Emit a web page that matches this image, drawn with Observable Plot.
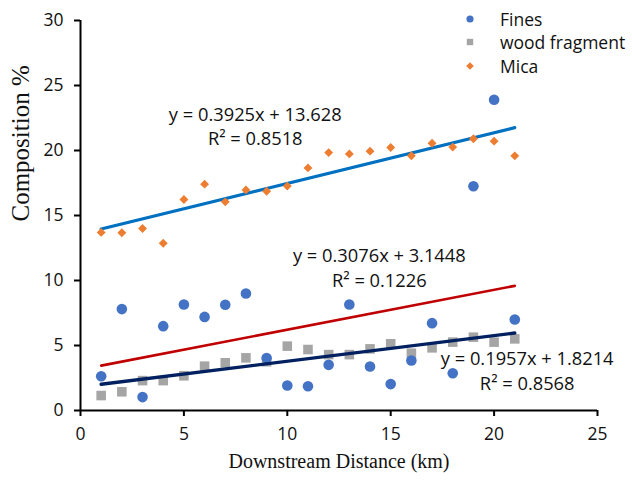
<!DOCTYPE html>
<html>
<head>
<meta charset="utf-8">
<script src="https://cdn.jsdelivr.net/npm/d3@7"></script>
<script src="https://cdn.jsdelivr.net/npm/@observablehq/plot@0.6"></script>
<style>
  html, body { margin: 0; padding: 0; background: #fff; }
  #wrap { position: relative; width: 632px; height: 481px; }
  #legend { position: absolute; left: 462px; top: 7px; font-family: "Open Sans", sans-serif; font-size: 17.5px; color: #111; }
  #legend .row { display: flex; align-items: center; height: 23.5px; }
  #legend svg { width: 16px; height: 16px; margin-right: 22px; }
</style>
</head>
<body>
<div id="wrap"><div id="chart"></div><div id="legend"></div></div>
<script>
// Data
const distance = [1,2,3,4,5,6,7,8,9,10,11,12,13,14,15,16,17,18,19,20,21];
const fines = [2.64,7.8,1.03,6.49,8.15,7.2,8.13,9.0,4.03,1.92,1.87,3.51,8.15,3.38,2.03,3.85,6.72,2.87,17.25,23.9,7.0];
const woodFragment = [1.15,1.44,2.3,2.3,2.67,3.41,3.67,4.05,3.75,4.95,4.69,4.3,4.3,4.74,5.13,4.41,4.82,5.26,5.64,5.26,5.51];
const mica = [13.7,13.67,14.0,12.87,16.23,17.41,16.05,16.97,16.87,17.26,18.66,19.84,19.74,19.95,20.23,19.6,20.56,20.26,20.9,20.72,19.59];
const seriesNames = ["Fines", "wood fragment", "Mica"];
const equations = ["y = 0.3076x + 3.1448", "y = 0.1957x + 1.8214", "y = 0.3925x + 13.628"];
const rSquared = ["R² = 0.1226", "R² = 0.8568", "R² = 0.8518"];
const xTicks = [0,5,10,15,20,25];
const yTicks = [0,5,10,15,20,25,30];

// Styles / positions (kept separate from data)
const dotColors = ["#4472C4", "#A5A5A5", "#ED7D31"];
const trendColors = ["#C00000", "#002060", "#0070C0"];
const trendWidths = [2.6, 3.4, 3.2];
const eqPos = [{x: 14.45, y: 11.05}, {x: 21.6, y: 3.15}, {x: 8.45, y: 21.95}];

const fromArrays = (ys) => distance.map((d, i) => ({x: d, y: ys[i]}));
const sets = [fromArrays(fines), fromArrays(woodFragment), fromArrays(mica)];
const eqData = equations.map((e, i) => ({x: eqPos[i].x, y: eqPos[i].y, text: e + "\n" + rSquared[i]}));

const sans = "'Open Sans', sans-serif";
const serif = "'Liberation Serif', 'Times New Roman', serif";

const chart = Plot.plot({
  width: 632,
  height: 481,
  marginLeft: 80,
  marginRight: 35,
  marginTop: 20,
  marginBottom: 71,
  style: {fontFamily: sans, background: "#fff", color: "#111"},
  x: {domain: [0, 25]},
  y: {domain: [0, 30]},
  marks: [
    Plot.linearRegressionY(sets[2], {x: "x", y: "y", stroke: trendColors[2], strokeWidth: trendWidths[2], ci: 0}),
    Plot.linearRegressionY(sets[0], {x: "x", y: "y", stroke: trendColors[0], strokeWidth: trendWidths[0], ci: 0}),
    Plot.dot(sets[1], {x: "x", y: "y", symbol: "square", r: 5.4, fill: dotColors[1], stroke: "none"}),
    Plot.dot(sets[0], {x: "x", y: "y", symbol: "circle", r: 5.3, fill: dotColors[0], stroke: "none"}),
    Plot.linearRegressionY(sets[1], {x: "x", y: "y", stroke: trendColors[1], strokeWidth: trendWidths[1], ci: 0}),
    Plot.dot(sets[2], {x: "x", y: "y", symbol: "diamond2", r: 4, fill: dotColors[2], stroke: "none"}),
    Plot.text(eqData, {x: "x", y: "y", text: "text", fontSize: 18.3, fontFamily: sans, lineHeight: 1.35, lineAnchor: "middle", fill: "#111"}),
    Plot.ruleX([0], {y1: 0, y2: 30, stroke: "#000", strokeWidth: 2}),
    Plot.ruleY([0], {x1: 0, x2: 25, stroke: "#000", strokeWidth: 2}),
    Plot.axisY({ticks: yTicks, tickSize: 6, tickPadding: 11, fontSize: 17.5, label: null, stroke: "#000", strokeWidth: 2}),
    Plot.axisX({ticks: xTicks, tickSize: 6, tickPadding: 11, fontSize: 17.5, label: null, stroke: "#000", strokeWidth: 2}),
    Plot.text(["Composition %"], {frameAnchor: "left", rotate: -90, dx: -60, dy: 6, fontSize: 25, fontFamily: serif, fill: "#111"}),
    Plot.text(["Downstream Distance (km)"], {frameAnchor: "bottom", dy: 57, fontSize: 20, fontFamily: serif, fill: "#111"})
  ]
});
document.getElementById("chart").append(chart);

// Legend
const shapes = [
  '<circle cx="8" cy="8" r="3.6" fill="' + dotColors[0] + '"/>',
  '<rect x="4.8" y="4.8" width="6.4" height="6.4" fill="' + dotColors[1] + '"/>',
  '<path d="M8 4.2 L11.8 8 L8 11.8 L4.2 8 Z" fill="' + dotColors[2] + '"/>'
];
const legend = document.getElementById("legend");
seriesNames.forEach((name, i) => {
  const row = document.createElement("div");
  row.className = "row";
  row.innerHTML = '<svg viewBox="0 0 16 16">' + shapes[i] + '</svg><span>' + name + '</span>';
  legend.append(row);
});
</script>
</body>
</html>
